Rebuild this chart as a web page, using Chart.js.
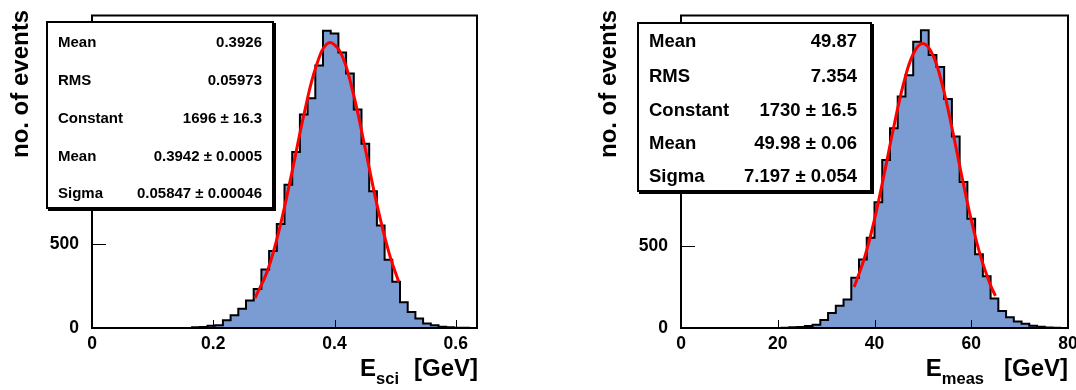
<!DOCTYPE html>
<html>
<head>
<meta charset="utf-8">
<script src="https://cdn.jsdelivr.net/npm/chart.js@4.4.0/dist/chart.umd.min.js"></script>
<style>
  body { margin: 0; background: #fff; }
  #page { position: relative; width: 1076px; height: 390px; overflow: hidden;
          font-family: "Liberation Sans", Arial, sans-serif; font-weight: bold; color: #000; }
  canvas { position: absolute; top: 0; }
  .ytitle { position: absolute; width: 200px; height: 24px; font-size: 24px; line-height: 24px;
            text-align: right; white-space: nowrap; transform: rotate(-90deg); }
  .xtitle { position: absolute; font-size: 24px; line-height: 24px; white-space: nowrap; text-align: right; }
  .xtitle .sub { position: relative; top: 8px; font-size: 16.5px; }
  .stats { position: absolute; background: #fff; border: 2px solid #000; box-shadow: 2px 2px 0 #000;
           box-sizing: border-box; }
  .row { position: absolute; display: flex; justify-content: space-between; white-space: nowrap; }
</style>
</head>
<body>
<div id="page">
  <canvas id="sci" width="538" height="390" style="left:0"></canvas>
  <canvas id="meas" width="538" height="390" style="left:538px"></canvas>
</div>
<script>
// 50-bin histograms
const nBins = 50;
const sciRange = [0, 0.635];
const sciCounts = [
  0, 0, 0, 0, 0, 0, 0, 0, 0, 0,
  0, 0, 0, 4, 6, 13, 16, 46, 75, 114,
  163, 231, 347, 457, 618, 851, 1045, 1267, 1364, 1558,
  1765, 1748, 1636, 1510, 1297, 1093, 812, 609, 405, 275,
  153, 95, 56, 27, 17, 8, 4, 2, 1, 0
];
const measRange = [0, 80];
const measCounts = [
  0, 0, 0, 0, 0, 0, 0, 0, 0, 0,
  0, 0, 0, 2, 4, 6, 12, 20, 49, 91,
  136, 173, 305, 417, 548, 764, 1021, 1215, 1408, 1537,
  1740, 1811, 1660, 1587, 1392, 1165, 888, 664, 448, 314,
  179, 104, 66, 39, 26, 14, 7, 3, 1, 0
];

// red fit curves
const sciFitX = [0.269, 0.290, 0.310, 0.330, 0.350, 0.370, 0.390, 0.410, 0.430, 0.450, 0.470, 0.490, 0.506];
const sciFitY = [178, 346, 601, 928, 1274, 1557, 1692, 1635, 1406, 1076, 732, 444, 273];
const measFitX = [35.8, 38, 40, 42, 44, 46, 48, 50, 52, 54, 56, 58, 60, 62, 64, 65];
const measFitY = [249, 433, 661, 935, 1225, 1485, 1666, 1730, 1663, 1480, 1219, 930, 657, 429, 259, 196];

// axes
const sciYMax = 1855;
const measYMax = 1900;
const yTicks = [0, 500, 1000, 1500];
const yTickLabels = ["0", "500", "", ""];
const sciXTicks = [0, 0.2, 0.4, 0.6];
const sciXTickLabels = ["0", "0.2", "0.4", "0.6"];
const measXTicks = [0, 20, 40, 60, 80];
const measXTickLabels = ["0", "20", "40", "60", "80"];

// stats boxes
const statLabels = ["Mean", "RMS", "Constant", "Mean", "Sigma"];
const sciStatValues = ["0.3926", "0.05973", "1696 \u00b1 16.3", "0.3942 \u00b1 0.0005", "0.05847 \u00b1 0.00046"];
const measStatValues = ["49.87", "7.354", "1730 \u00b1 16.5", "49.98 \u00b1 0.06", "7.197 \u00b1 0.054"];

const FONT = '"Liberation Sans", Arial, sans-serif';

function histPoints(range, counts) {
  const w = (range[1] - range[0]) / counts.length;
  const pts = counts.map((c, i) => ({ x: range[0] + i * w, y: c }));
  pts.push({ x: range[1], y: 0 });
  return pts;
}

// ROOT-like frame with ticks pointing inwards
const rootFrame = {
  id: "rootFrame",
  afterDatasetsDraw(chart) {
    const { ctx, chartArea: a, scales } = chart;
    ctx.save();
    ctx.strokeStyle = "#000";
    ctx.lineWidth = 1;
    scales.x.ticks.forEach(t => {
      const px = Math.round(scales.x.getPixelForValue(t.value)) + 0.5;
      ctx.beginPath();
      ctx.moveTo(px, a.bottom);
      ctx.lineTo(px, a.bottom - 8);
      ctx.stroke();
    });
    scales.y.ticks.forEach(t => {
      const py = Math.round(scales.y.getPixelForValue(t.value)) + 0.5;
      ctx.beginPath();
      ctx.moveTo(a.left, py);
      ctx.lineTo(a.left + 14, py);
      ctx.stroke();
    });
    ctx.lineWidth = 2;
    ctx.strokeRect(a.left, a.top, a.right - a.left, a.bottom - a.top);
    ctx.restore();
  }
};

function makePanel(id, cfg) {
  const tickFont = { family: FONT, size: 17.5, weight: "bold" };
  new Chart(document.getElementById(id), {
    type: "line",
    data: {
      datasets: [
        {
          label: "fit",
          data: cfg.fitX.map((x, i) => ({ x: x, y: cfg.fitY[i] })),
          borderColor: "#ff0000",
          borderWidth: 3,
          pointRadius: 0,
          tension: 0.4,
          fill: false,
          order: 0
        },
        {
          label: "hist",
          data: histPoints(cfg.range, cfg.counts),
          stepped: "before",
          borderColor: "#000",
          borderWidth: 2,
          backgroundColor: "#7b9bd3",
          fill: "origin",
          pointRadius: 0,
          order: 1
        }
      ]
    },
    options: {
      responsive: false,
      animation: false,
      events: [],
      layout: { autoPadding: false, padding: { left: 0, right: cfg.padRight, top: 10, bottom: 0 } },
      plugins: { legend: { display: false }, tooltip: { enabled: false } },
      scales: {
        x: {
          type: "linear",
          min: cfg.range[0],
          max: cfg.range[1],
          grid: { display: false },
          border: { display: false },
          afterBuildTicks: s => { s.ticks = cfg.xTicks.map(v => ({ value: v })); },
          afterFit: s => { s.height = 62; },
          ticks: {
            font: tickFont, color: "#000", padding: -2, maxRotation: 0, autoSkip: false,
            callback: (v, i) => cfg.xTickLabels[i]
          }
        },
        y: {
          type: "linear",
          min: 0,
          max: cfg.yMax,
          grid: { display: false },
          border: { display: false },
          afterBuildTicks: s => { s.ticks = yTicks.map(v => ({ value: v })); },
          afterFit: s => { s.width = cfg.yWidth; },
          ticks: {
            font: tickFont, color: "#000", padding: 5, autoSkip: false,
            callback: (v, i) => yTickLabels[i]
          }
        }
      }
    },
    plugins: [rootFrame]
  });
}

makePanel("sci", {
  range: sciRange, counts: sciCounts, fitX: sciFitX, fitY: sciFitY, yMax: sciYMax,
  xTicks: sciXTicks, xTickLabels: sciXTickLabels, yWidth: 92, padRight: 61
});
makePanel("meas", {
  range: measRange, counts: measCounts, fitX: measFitX, fitY: measFitY, yMax: measYMax,
  xTicks: measXTicks, xTickLabels: measXTickLabels, yWidth: 143, padRight: 8
});

// titles and stats boxes as html text
const page = document.getElementById("page");
function addDiv(cls, style, html) {
  const d = document.createElement("div");
  d.className = cls;
  d.style.cssText = style;
  d.innerHTML = html;
  page.appendChild(d);
  return d;
}

addDiv("ytitle", "left:-80px;top:98px;", "no. of events");
addDiv("ytitle", "left:508px;top:98px;", "no. of events");
addDiv("xtitle", "right:598px;top:356px;",
  'E<span class="sub">sci</span><span style="margin-left:15px">[GeV]</span>');
addDiv("xtitle", "right:8px;top:356px;",
  'E<span class="sub">meas</span><span style="margin-left:20px">[GeV]</span>');

function statsBox(box, values, rows) {
  addDiv("stats", `left:${box.x}px;top:${box.y}px;width:${box.w}px;height:${box.h}px;`, "");
  statLabels.forEach((lab, i) => {
    const h = 24;
    addDiv("row",
      `left:${rows.left}px;width:${rows.right - rows.left}px;top:${rows.centers[i] - h / 2}px;` +
      `height:${h}px;line-height:${h}px;font-size:${rows.size}px;`,
      `<span>${lab}</span><span>${values[i]}</span>`);
  });
}

statsBox({ x: 46, y: 21, w: 228, h: 188 }, sciStatValues,
  { left: 58, right: 262, size: 15, centers: [42, 80, 118, 156, 193] });
statsBox({ x: 637, y: 22, w: 235, h: 170 }, measStatValues,
  { left: 649, right: 857, size: 18.5, centers: [41, 76, 109.5, 143, 176] });
</script>
</body>
</html>
